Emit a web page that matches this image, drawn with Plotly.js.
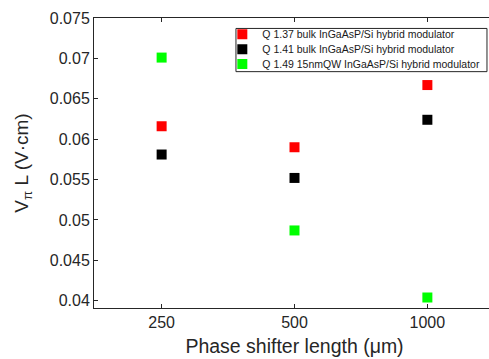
<!DOCTYPE html>
<html>
<head>
<meta charset="utf-8">
<script src="https://cdn.plot.ly/plotly-3.0.1.min.js"></script>
<style>
html, body { margin: 0; padding: 0; overflow: hidden; background: #fff; }
#chart { width: 496px; height: 359px; }
</style>
</head>
<body>
<div id="chart"></div>
<script>
// Data
const lengths = ['250', '500', '1000'];
const seriesNames = [
  'Q 1.37 bulk InGaAsP/Si hybrid modulator',
  'Q 1.41 bulk InGaAsP/Si hybrid modulator',
  'Q 1.49 15nmQW InGaAsP/Si hybrid modulator'
];
const q137 = [0.0616, 0.0590, 0.0667];
const q141 = [0.0581, 0.0552, 0.0624];
const q149 = [0.0701, 0.0487, 0.0404];
const yTickVals = [0.04, 0.045, 0.05, 0.055, 0.06, 0.065, 0.07, 0.075];
const yTickText = ['0.04', '0.045', '0.05', '0.055', '0.06', '0.065', '0.07', '0.075'];

const colors = ['#ff0000', '#000000', '#00ff00'];
const values = [q137, q141, q149];
const legendIds = ['legend', 'legend2', 'legend3'];

const traces = values.map((v, i) => ({
  x: lengths,
  y: v,
  name: seriesNames[i],
  type: 'scatter',
  mode: 'markers',
  legend: legendIds[i],
  marker: { symbol: 'square', size: 10, color: colors[i], line: { width: 0 } }
}));

const axisColor = '#262626';
const font = 'Liberation Sans, Arial, Helvetica, sans-serif';

function legendAt(y) {
  return {
    x: 0.32, xanchor: 'left', y: y, yanchor: 'middle',
    bgcolor: 'rgba(0,0,0,0)', borderwidth: 0,
    font: { family: font, size: 10.5, color: '#1a1a1a' },
    itemwidth: 30, tracegroupgap: 0
  };
}

const layout = {
  width: 496, height: 359,
  margin: { l: 94, r: 1, t: 18, b: 51 },
  paper_bgcolor: '#ffffff', plot_bgcolor: '#ffffff',
  font: { family: font, color: axisColor },
  showlegend: true,
  legend: legendAt(0.944),
  legend2: legendAt(0.892),
  legend3: legendAt(0.841),
  xaxis: {
    type: 'category',
    range: [-0.509, 2.509],
    showline: true, linecolor: axisColor, linewidth: 1, mirror: 'ticks',
    ticks: 'inside', ticklen: 4, tickcolor: axisColor,
    showgrid: false, zeroline: false,
    tickfont: { family: font, size: 16, color: axisColor },
    title: { text: 'Phase shifter length (μm)', font: { family: font, size: 19.5, color: axisColor }, standoff: 9 }
  },
  yaxis: {
    range: [0.0391, 0.075],
    tickvals: yTickVals, ticktext: yTickText,
    showline: true, linecolor: axisColor, linewidth: 1, mirror: 'ticks',
    ticks: 'inside', ticklen: 4, tickcolor: axisColor,
    showgrid: false, zeroline: false,
    tickfont: { family: font, size: 16, color: axisColor },
    title: { text: 'V<sub>π</sub> L (V·cm)', font: { family: font, size: 19, color: axisColor }, standoff: 16 }
  },
  shapes: [{
    type: 'rect', xref: 'paper', yref: 'paper',
    x0: 0.354, x1: 0.980, y0: 0.815, y1: 0.964,
    line: { color: axisColor, width: 1 }, fillcolor: 'rgba(255,255,255,1)', layer: 'below'
  }]
};

Plotly.newPlot('chart', traces, layout, { displayModeBar: false, staticPlot: true });
</script>
</body>
</html>
